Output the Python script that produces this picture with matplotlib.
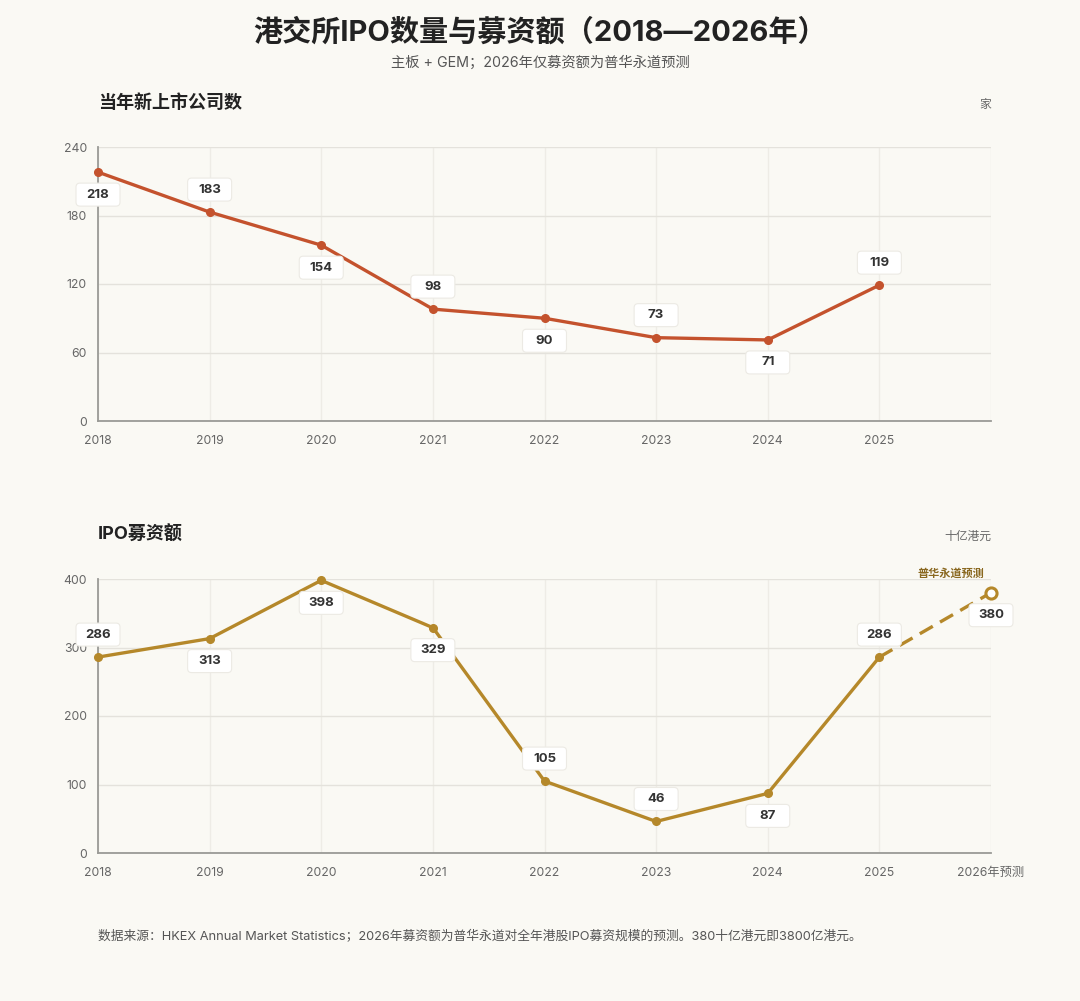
import matplotlib.pyplot as plt
import matplotlib.transforms as mtrans
from matplotlib.patches import FancyBboxPatch

plt.rcParams['font.family'] = ['Inter', 'Noto Sans CJK SC']

# data
years = ['2018', '2019', '2020', '2021', '2022', '2023', '2024', '2025']
years_fund = years + ['2026年预测']
ipo_count = [218, 183, 154, 98, 90, 73, 71, 119]
ipo_funds = [286, 313, 398, 329, 105, 46, 87, 286, 380]
count_label_pos = ['below', 'above', 'below', 'above', 'below', 'above', 'below', 'above']
fund_label_pos = ['above', 'below', 'below', 'below', 'above', 'above', 'below', 'above', 'below']

BG = '#FAF9F4'
RED = '#C4522D'
GOLD = '#B5882A'
GRID_H = '#E4E2DC'
GRID_V = '#EEECE6'
SPINE = '#9A9A96'
TICK = '#666666'

fig = plt.figure(figsize=(10.8, 10.01), dpi=100, facecolor=BG)

fig.text(0.5, 1 - 32 / 1001, '港交所IPO数量与募资额（2018—2026年）', ha='center', va='center',
         fontsize=21, fontweight='bold', color='#222222')
fig.text(0.5, 1 - 63 / 1001, '主板 + GEM；2026年仅募资额为普华永道预测', ha='center', va='center',
         fontsize=10.3, color='#555555')


def style_axes(ax, ymax, step):
    ax.set_facecolor(BG)
    ax.set_xlim(0, 8)
    ax.set_ylim(0, ymax)
    ax.set_yticks(range(0, ymax + 1, step))
    ax.set_xticks(range(9))
    ax.grid(True, axis='y', color=GRID_H, lw=1)
    ax.grid(True, axis='x', color=GRID_V, lw=1)
    ax.set_axisbelow(True)
    for s in ['top', 'right']:
        ax.spines[s].set_visible(False)
    for s in ['left', 'bottom']:
        ax.spines[s].set_color(SPINE)
        ax.spines[s].set_linewidth(1.3)
    ax.tick_params(length=0, colors=TICK, labelsize=8.8)
    ax.tick_params(axis='x', pad=10)
    ax.tick_params(axis='y', pad=8)


def add_label(ax, x, y, pos):
    # fixed-size white box, offset in inches from the data point
    dy = 0.225 if pos == 'above' else -0.225
    tr = fig.dpi_scale_trans + mtrans.ScaledTranslation(x, y, ax.transData)
    box = FancyBboxPatch((-0.22, dy - 0.115), 0.44, 0.23,
                         boxstyle='round,pad=0,rounding_size=0.04', transform=tr,
                         fc='white', ec='#ECEAE4', lw=0.8, zorder=5, clip_on=False)
    ax.add_patch(box)
    ax.text(0, dy, str(y), transform=tr, ha='center', va='center', fontsize=9.5,
            fontweight='bold', color='#333333', zorder=6)


left = 98 / 1080
width = 893 / 1080
height = 274 / 1001

# top panel: count
ax1 = fig.add_axes([left, (1001 - 421) / 1001, width, height])
style_axes(ax1, 240, 60)
ax1.set_xticklabels(years + [''])
xs = list(range(len(ipo_count)))
ax1.plot(xs, ipo_count, color=RED, lw=2.4, marker='o', ms=5.5, zorder=3, clip_on=False)
for x, y, p in zip(xs, ipo_count, count_label_pos):
    add_label(ax1, x, y, p)
fig.text(left, 1 - 103 / 1001, '当年新上市公司数', ha='left', va='center',
         fontsize=13, fontweight='bold', color='#222222')
fig.text(left + width, 1 - 105 / 1001, '家', ha='right', va='center', fontsize=8.5, color='#666666')

# bottom panel: funds
ax2 = fig.add_axes([left, (1001 - 853) / 1001, width, height])
style_axes(ax2, 400, 100)
ax2.set_xticklabels(years_fund)
xs2 = list(range(len(ipo_funds)))
ax2.plot(xs2[:8], ipo_funds[:8], color=GOLD, lw=2.4, marker='o', ms=5.5, zorder=3, clip_on=False)
ax2.plot(xs2[7:], ipo_funds[7:], color=GOLD, lw=2.4, ls=(0, (4.5, 2.5)), zorder=3, clip_on=False)
ax2.plot([xs2[8]], [ipo_funds[8]], marker='o', ms=8, mfc='white', mec=GOLD, mew=2.2,
         zorder=4, clip_on=False)
for x, y, p in zip(xs2, ipo_funds, fund_label_pos):
    add_label(ax2, x, y, p)
ax2.annotate('普华永道预测', (8, 380), xytext=(-29, 14), textcoords='offset points',
             ha='center', va='center', fontsize=8, fontweight='bold', color='#8A6820')
fig.text(left, 1 - 535 / 1001, 'IPO募资额', ha='left', va='center',
         fontsize=13, fontweight='bold', color='#222222')
fig.text(left + width, 1 - 537 / 1001, '十亿港元', ha='right', va='center', fontsize=8.5, color='#666666')

fig.text(left, 1 - 937 / 1001,
         '数据来源：HKEX Annual Market Statistics；2026年募资额为普华永道对全年港股IPO募资规模的预测。380十亿港元即3800亿港元。',
         ha='left', va='center', fontsize=9.2, color='#555555')

fig.savefig('out.png', dpi=100, facecolor=BG)
